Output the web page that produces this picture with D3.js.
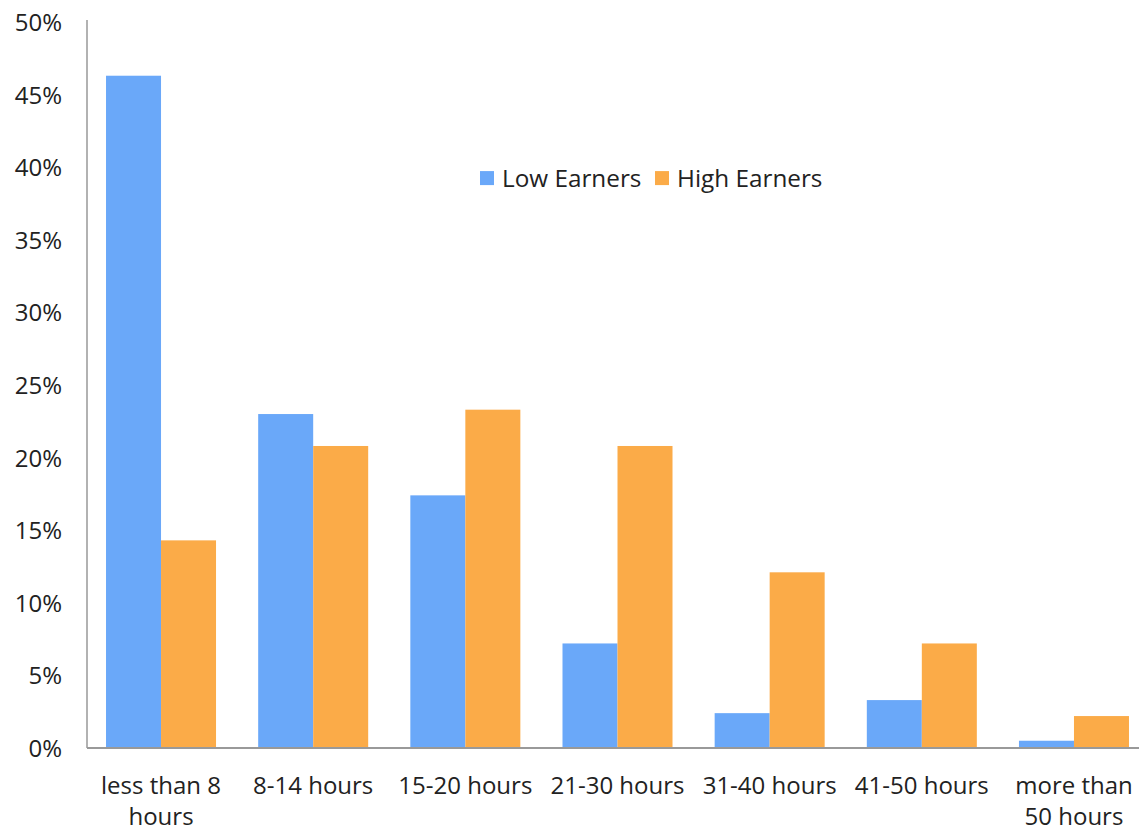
<!DOCTYPE html>
<html lang="en">
<head>
    <meta charset="UTF-8">
    <title>Low vs High Earners</title>
    <script src="https://d3js.org/d3.v7.min.js"></script>
    <style>
        body {
            margin: 0;
            background: #ffffff;
            font-family: "Open Sans", Arial, sans-serif;
            overflow: hidden;
        }
        .axis-text {
            font-family: "Open Sans", Arial, sans-serif;
            font-size: 24px;
            fill: #222;
        }
        .legend-text {
            font-family: "Open Sans", Arial, sans-serif;
            font-size: 24.3px;
            fill: #222;
        }
    </style>
</head>
<body>
    <svg></svg>

    <script>
        // categories (each split into the lines shown under the bar group)
        const categories = [
            ["less than 8", "hours"],
            ["8-14 hours"],
            ["15-20 hours"],
            ["21-30 hours"],
            ["31-40 hours"],
            ["41-50 hours"],
            ["more than", "50 hours"]
        ];
        const seriesNames = ["Low Earners", "High Earners"];
        const lowEarners  = [46.3, 23.0, 17.4, 7.2, 2.4, 3.3, 0.5];
        const highEarners = [14.3, 20.8, 23.3, 20.8, 12.1, 7.2, 2.2];
        const yTicks = [0, 5, 10, 15, 20, 25, 30, 35, 40, 45, 50];
        const colors = ["#6aa8f9", "#fbab48"];

        const fullWidth = 1139, fullHeight = 829;
        // plot area runs a little past the right edge of the picture (cropped like the original)
        const margin = { top: 22, right: -9, bottom: 81, left: 87 };
        const width = fullWidth - margin.left - margin.right;
        const height = fullHeight - margin.top - margin.bottom;

        const svg = d3.select("svg")
            .attr("width", fullWidth)
            .attr("height", fullHeight)
            .append("g")
            .attr("transform", `translate(${margin.left},${margin.top})`);

        const labels = categories.map(c => c.join(" "));
        const rows = labels.map((l, i) => ({ label: l, lines: categories[i], values: [lowEarners[i], highEarners[i]] }));

        const x0 = d3.scaleBand().domain(labels).range([0, width]).paddingInner(0.277).paddingOuter(0.125);
        const x1 = d3.scaleBand().domain([0, 1]).range([0, x0.bandwidth()]);
        const y = d3.scaleLinear().domain([0, 50]).range([height, 0]);

        // bars
        const groups = svg.selectAll(".group")
            .data(rows)
            .enter().append("g")
            .attr("transform", d => `translate(${x0(d.label)},0)`);

        groups.selectAll("rect")
            .data(d => d.values)
            .enter().append("rect")
            .attr("x", (d, i) => x1(i))
            .attr("y", d => y(d))
            .attr("width", x1.bandwidth())
            .attr("height", d => height - y(d))
            .attr("fill", (d, i) => colors[i]);

        // y axis
        const yAxis = svg.append("g")
            .call(d3.axisLeft(y).tickValues(yTicks).tickSize(0).tickPadding(25).tickFormat(d => d + "%"));
        yAxis.select(".domain").attr("stroke", "#999").attr("stroke-width", 1.5).attr("d", `M0,${y(50) - 2}V${height}`);
        yAxis.selectAll("text").attr("class", "axis-text").attr("dy", "0.35em");

        // x axis
        const xAxis = svg.append("g")
            .attr("transform", `translate(0,${height})`)
            .call(d3.axisBottom(x0).tickSize(0).tickFormat(""));
        xAxis.select(".domain").attr("stroke", "#999").attr("stroke-width", 2).attr("d", `M0,0H${width}`);

        xAxis.selectAll(".tick").each(function(d, i) {
            const t = d3.select(this).select("text")
                .attr("class", "axis-text")
                .attr("y", 0)
                .attr("dy", null);
            rows[i].lines.forEach((line, j) => {
                t.append("tspan").attr("x", 0).attr("y", 46 + j * 31).text(line);
            });
        });

        // legend
        const legend = svg.append("g").attr("transform", `translate(393,${y(39.25)})`);
        const legendX = [0, 175];
        seriesNames.forEach((name, i) => {
            const item = legend.append("g").attr("transform", `translate(${legendX[i]},0)`);
            item.append("rect").attr("x", 0).attr("y", -7).attr("width", 14).attr("height", 14).attr("fill", colors[i]);
            item.append("text").attr("class", "legend-text").attr("x", 22).attr("y", 0).attr("dy", "0.35em").text(name);
        });
    </script>
</body>
</html>
